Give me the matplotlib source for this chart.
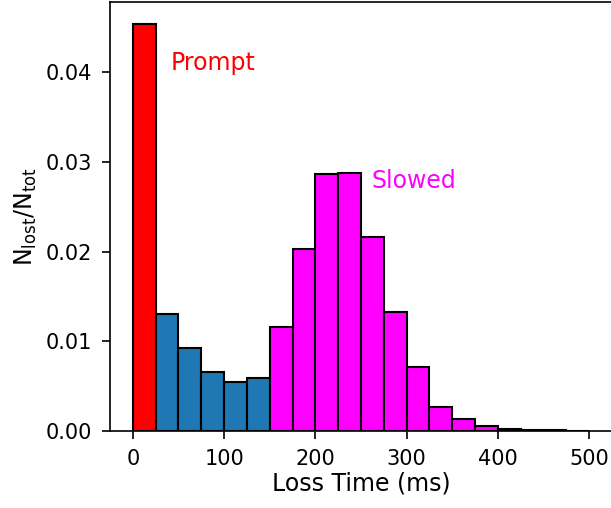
import numpy as np
import matplotlib
matplotlib.use('Agg')
import matplotlib.pyplot as plt

# bin edges (ms) and normalised counts per bin
bin_edges = np.arange(0, 525, 25)
prompt_frac = [0.0454]
early_frac = [0.0130, 0.0092, 0.0066, 0.0055, 0.0059]
slowed_frac = [0.0116, 0.0203, 0.0286, 0.0288, 0.0216, 0.0133, 0.0071,
               0.0027, 0.0013, 0.0006, 0.0002, 0.00015, 0.0001, 0.00005]

plt.rcParams['xtick.labelsize'] = 15
plt.rcParams['ytick.labelsize'] = 15
plt.rcParams['xtick.major.size'] = 6
plt.rcParams['ytick.major.size'] = 6
plt.rcParams['xtick.major.pad'] = 7
plt.rcParams['ytick.major.pad'] = 7
plt.rcParams['xtick.major.width'] = 1.2
plt.rcParams['ytick.major.width'] = 1.2
plt.rcParams['axes.linewidth'] = 1.2

fig = plt.figure(figsize=(6.11, 5.08), dpi=100)
ax = fig.add_axes([0.18, 0.1516, 0.8216, 0.844])

width = 25
groups = [(prompt_frac, 0, 'red'), (early_frac, 1, '#1f77b4'), (slowed_frac, 6, 'magenta')]
for vals, start, color in groups:
    left = bin_edges[start:start + len(vals)]
    ax.bar(left, vals, width=width, align='edge', color=color,
           edgecolor='black', linewidth=1.5)

ax.text(41, 0.0403, 'Prompt', color='red', fontsize=17)
ax.text(262, 0.0271, 'Slowed', color='magenta', fontsize=17)

ax.set_xlim(-25, 525)
ax.set_ylim(0, 0.0478)
ax.set_xticks([0, 100, 200, 300, 400, 500])
ax.set_yticks([0.0, 0.01, 0.02, 0.03, 0.04])
ax.set_xlabel('Loss Time (ms)', fontsize=17, labelpad=2)
ax.set_ylabel(r'N$_{\mathrm{lost}}$/N$_{\mathrm{tot}}$', fontsize=17, labelpad=5)

fig.savefig('out.png', dpi=100)
